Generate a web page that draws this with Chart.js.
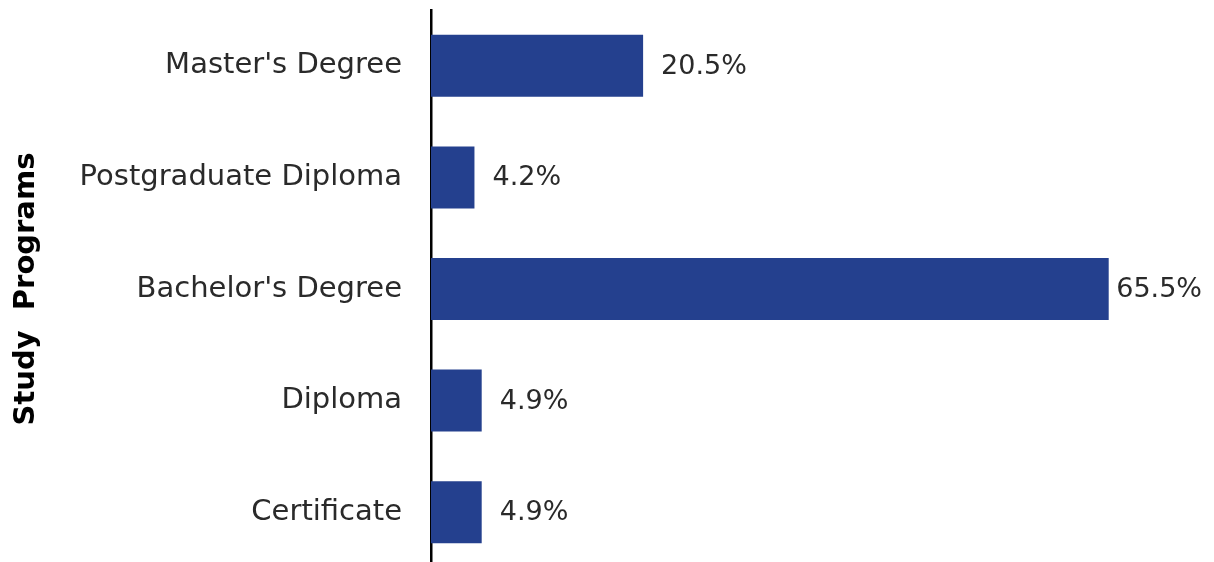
<!DOCTYPE html>
<html>
<head>
<meta charset="utf-8">
<script src="https://cdn.jsdelivr.net/npm/chart.js@4/dist/chart.umd.min.js"></script>
<style>
  html, body { margin: 0; padding: 0; background: #ffffff; overflow: hidden; }
  #wrap { width: 1214px; height: 570px; }
</style>
</head>
<body>
<div id="wrap"><canvas id="chart" width="1214" height="570"></canvas></div>
<script>
// Study programs and their share of respondents (%)
const programs = ["Master's Degree", "Postgraduate Diploma", "Bachelor's Degree", "Diploma", "Certificate"];
const shares = [20.5, 4.2, 65.5, 4.9, 4.9];
const axisTitle = "Study  Programs";

const barColor = '#24408e';
const textColor = '#2a2a2a';
const fontFamily = '"DejaVu Sans", sans-serif';

// Writes each bar's percentage just past its end, kept inside the canvas
const valueLabels = {
  id: 'valueLabels',
  afterDatasetsDraw(chart) {
    const ctx = chart.ctx;
    const meta = chart.getDatasetMeta(0);
    ctx.save();
    ctx.font = '27px ' + fontFamily;
    ctx.fillStyle = textColor;
    ctx.textAlign = 'left';
    ctx.textBaseline = 'middle';
    meta.data.forEach((bar, i) => {
      const text = chart.data.datasets[0].data[i].toFixed(1) + '%';
      const w = ctx.measureText(text).width;
      const x = Math.min(bar.x + 18, chart.width - 12 - w);
      ctx.fillText(text, x, bar.y + 1);
    });
    ctx.restore();
  }
};

new Chart(document.getElementById('chart'), {
  type: 'bar',
  data: {
    labels: programs,
    datasets: [{
      data: shares,
      backgroundColor: barColor,
      borderWidth: 0,
      categoryPercentage: 1.0,
      barPercentage: 0.556
    }]
  },
  options: {
    indexAxis: 'y',
    responsive: false,
    animation: false,
    layout: { padding: { top: 10, bottom: 2, left: 0, right: 7 } },
    plugins: {
      legend: { display: false },
      tooltip: { enabled: false }
    },
    scales: {
      x: {
        display: false,
        min: 0,
        max: 75
      },
      y: {
        afterFit(scale) {
          scale.width = 431;
          // the category axis needs no extra room above or below
          scale.paddingTop = 0;
          scale.paddingBottom = 0;
        },
        grid: { display: false, drawTicks: false },
        border: { display: true, color: '#000000', width: 2.5 },
        ticks: {
          padding: 29,
          color: textColor,
          font: { family: fontFamily, size: 29 }
        },
        title: {
          display: true,
          text: axisTitle,
          color: '#000000',
          padding: { top: 9, bottom: 0 },
          font: { family: fontFamily, size: 29, weight: 'bold' }
        }
      }
    }
  },
  plugins: [valueLabels]
});
</script>
</body>
</html>
